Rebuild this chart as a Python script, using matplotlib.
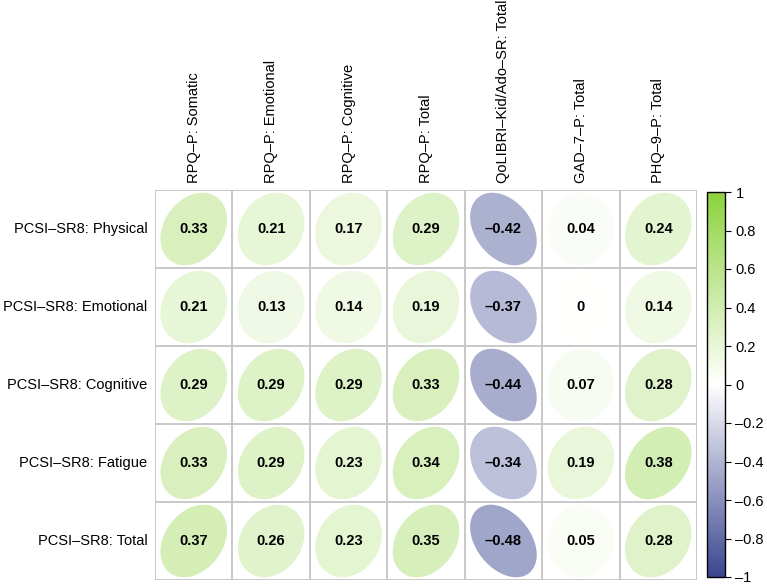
import numpy as np
import matplotlib
matplotlib.use("Agg")
import matplotlib.pyplot as plt
from matplotlib.patches import Polygon
from matplotlib.colors import LinearSegmentedColormap, Normalize
from matplotlib.cm import ScalarMappable

plt.rcParams['font.family'] = ['Liberation Sans', 'DejaVu Sans']

# --------------------------
# Data
# --------------------------
row_labels = ["PCSI\u2013SR8: Physical", "PCSI\u2013SR8: Emotional", "PCSI\u2013SR8: Cognitive",
              "PCSI\u2013SR8: Fatigue", "PCSI\u2013SR8: Total"]
col_labels = ["RPQ\u2013P: Somatic", "RPQ\u2013P: Emotional", "RPQ\u2013P: Cognitive", "RPQ\u2013P: Total",
              "QoLIBRI\u2013Kid/Ado\u2013SR: Total", "GAD\u20137\u2013P: Total", "PHQ\u20139\u2013P: Total"]

physical = [0.33, 0.21, 0.17, 0.29, -0.42, 0.04, 0.24]
emotional = [0.21, 0.13, 0.14, 0.19, -0.37, 0.00, 0.14]
cognitive = [0.29, 0.29, 0.29, 0.33, -0.44, 0.07, 0.28]
fatigue = [0.33, 0.29, 0.23, 0.34, -0.34, 0.19, 0.38]
total = [0.37, 0.26, 0.23, 0.35, -0.48, 0.05, 0.28]

corr = np.array([physical, emotional, cognitive, fatigue, total])
nrows, ncols = corr.shape

cmap = LinearSegmentedColormap.from_list("navy_green", ["#3B4690", "#FFFFFF", "#8CD23C"])
norm = Normalize(-1, 1)

# --------------------------
# Figure
# --------------------------
fig = plt.figure(figsize=(7.67, 5.88), dpi=100)
ax = fig.add_axes([155/767, 1 - 580/588, 542/767, 390/588])

# corrplot-style ellipse, a bit rounder and taller than the textbook shape
sx, sy = 0.43, 0.465
shape_k = 0.8
t = np.linspace(0, 2*np.pi, 100)
for i in range(nrows):
    for j in range(ncols):
        r = corr[i, j]
        y = nrows - 1 - i
        d = np.arccos(r * shape_k)
        ex = j + sx*np.cos(t + d/2)
        ey = y + sy*np.cos(t - d/2)
        ax.add_patch(Polygon(np.column_stack([ex, ey]), closed=True,
                             facecolor=cmap(norm(r)), edgecolor='none'))
        txt = f"{r:g}".replace("-", "\u2013")
        ax.text(j, y, txt, ha='center', va='center', fontsize=10.5, fontweight='bold')

# grid lines
for k in range(ncols + 1):
    ax.axvline(k - 0.5, color='#c4c4c4', lw=1.3)
for k in range(nrows + 1):
    ax.axhline(k - 0.5, color='#c4c4c4', lw=1.3)

ax.set_xlim(-0.5, ncols - 0.5)
ax.set_ylim(-0.5, nrows - 0.5)
for s in ax.spines.values():
    s.set_visible(False)
ax.set_xticks([])
ax.set_yticks([])

# labels
for i, lab in enumerate(row_labels):
    ax.text(-0.6, nrows - 1 - i, lab, ha='right', va='center', fontsize=10.5)
for j, lab in enumerate(col_labels):
    ax.text(j, nrows - 0.5 + 0.09, lab, ha='center', va='bottom', rotation=90, fontsize=10.5)

# colorbar
cax = fig.add_axes([707/767, 1 - 577/588, 18/767, 385/588])
cb = fig.colorbar(ScalarMappable(norm=norm, cmap=cmap), cax=cax)
ticks = np.round(np.arange(-1, 1.01, 0.2), 1)
cb.set_ticks(ticks)
cb.set_ticklabels([f"{t:g}".replace("-", "\u2013") if abs(t) > 1e-9 else "0" for t in ticks])
cb.outline.set_linewidth(1.0)
cax.tick_params(labelsize=10.5, length=4, width=0.8)

fig.savefig("out.png", dpi=100)
